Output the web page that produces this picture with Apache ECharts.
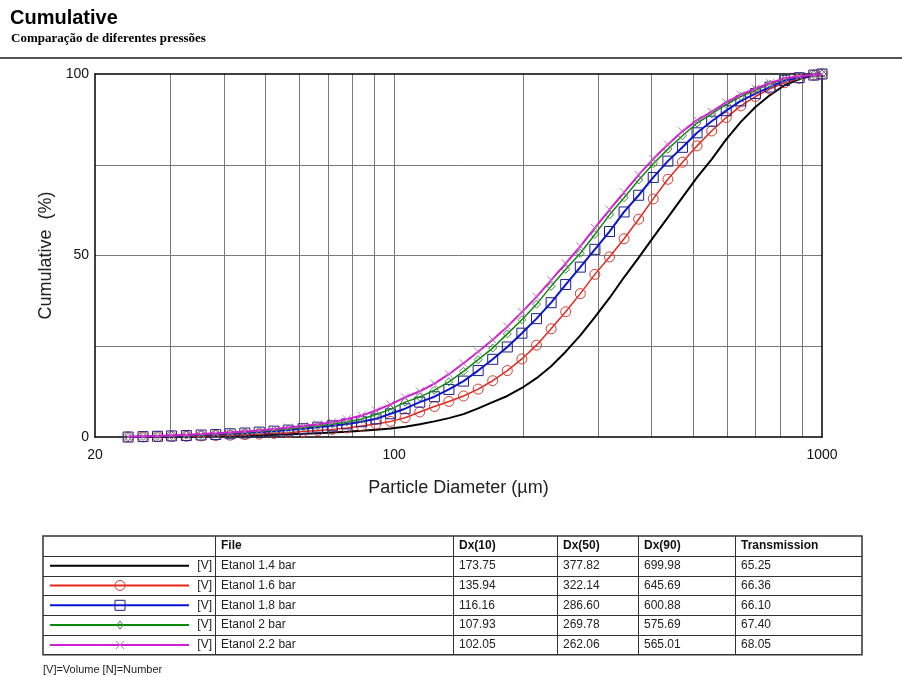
<!DOCTYPE html>
<html>
<head>
<meta charset="utf-8">
<title>Cumulative</title>
<script src="https://cdn.jsdelivr.net/npm/echarts@6/dist/echarts.min.js"></script>
<style>
  html, body { margin: 0; padding: 0; background: #fff; }
  #main { width: 902px; height: 677px; }
</style>
</head>
<body>
<div id="main"></div>
<script>
  // particle diameters (µm) of the size classes
  const diameters = [23.9, 25.9, 28.0, 30.2, 32.7, 35.4, 38.3, 41.4, 44.8, 48.4, 52.4, 56.6, 61.3, 66.3, 71.7,
    77.5, 83.9, 90.7, 98.1, 106.1, 114.8, 124.2, 134.3, 145.3, 157.2, 170.0, 183.9, 198.9, 215.2, 232.8,
    251.8, 272.4, 294.6, 318.7, 344.7, 372.9, 403.3, 436.3, 471.9, 510.5, 552.2, 597.3, 646.1, 698.9,
    756.0, 817.8, 884.6, 956.9, 1000]

  // cumulative volume (%)
  const etanol14 = [0, 0, 0.05, 0.1, 0.15, 0.2, 0.25, 0.3, 0.4, 0.5, 0.6, 0.75, 0.9, 1.05, 1.25, 1.45, 1.7, 2.0,
    2.35, 2.8, 3.5, 4.3, 5.2, 6.3, 7.9, 9.6, 11.3, 13.5, 16.2, 19.5, 23.5, 28.0, 33.0, 38.3, 44.0, 49.4, 55.0,
    60.5, 66.0, 71.5, 76.5, 82.0, 86.8, 90.9, 94.2, 96.9, 98.6, 99.6, 100]
  const etanol16 = [0, 0.05, 0.1, 0.15, 0.2, 0.3, 0.4, 0.5, 0.65, 0.8, 1.0, 1.2, 1.5, 1.8, 2.1, 2.5, 3.0, 3.6,
    4.3, 5.3, 6.9, 8.4, 9.8, 11.3, 13.2, 15.5, 18.3, 21.5, 25.3, 29.8, 34.5, 39.5, 44.8, 49.6, 54.6, 60.0, 65.6,
    71.0, 75.7, 80.2, 84.3, 88.0, 91.2, 93.8, 95.9, 97.6, 98.8, 99.7, 100]
  const etanol18 = [0, 0.1, 0.2, 0.3, 0.4, 0.55, 0.7, 0.9, 1.1, 1.35, 1.6, 1.9, 2.3, 2.7, 3.1, 3.6, 4.2, 5.0,
    6.4, 7.8, 9.6, 11.1, 13.1, 15.4, 18.3, 21.4, 24.8, 28.6, 32.6, 37.0, 42.0, 46.8, 51.7, 56.6, 62.0, 66.6, 71.5,
    76.0, 79.8, 83.8, 87.0, 89.9, 92.6, 94.6, 96.4, 98.2, 99.0, 99.7, 100]
  const etanol20 = [0.05, 0.15, 0.25, 0.35, 0.5, 0.65, 0.85, 1.05, 1.3, 1.55, 1.85, 2.25, 2.65, 3.05, 3.55, 4.15,
    4.9, 6.2, 7.6, 9.6, 11.0, 12.9, 15.2, 18.1, 21.3, 24.5, 28.4, 32.3, 36.6, 41.5, 46.2, 50.6, 55.8, 61.2, 65.9,
    70.8, 75.3, 79.3, 83.0, 86.5, 89.0, 91.6, 93.8, 95.6, 97.2, 98.6, 99.3, 99.8, 100]
  const etanol22 = [0.1, 0.2, 0.3, 0.45, 0.6, 0.8, 1.0, 1.25, 1.5, 1.8, 2.2, 2.6, 3.0, 3.5, 4.1, 4.9, 5.9, 7.3,
    9.0, 10.9, 12.6, 14.7, 17.3, 20.3, 23.5, 26.8, 30.4, 34.4, 38.6, 43.2, 47.8, 52.5, 57.6, 62.6, 67.4, 72.2,
    76.6, 80.6, 84.2, 87.3, 89.6, 92.2, 94.3, 96.0, 97.5, 98.8, 99.4, 99.8, 100]

  // axis ticks
  const xGridValues = [30, 40, 50, 60, 70, 80, 90, 100, 200, 300, 400, 500, 600, 700, 800, 900]
  const xLabelValues = [20, 100, 1000]

  // results table
  const fileNames = ['Etanol 1.4 bar', 'Etanol 1.6 bar', 'Etanol 1.8 bar', 'Etanol 2 bar', 'Etanol 2.2 bar']
  const dx10 = [173.75, 135.94, 116.16, 107.93, 102.05]
  const dx50 = [377.82, 322.14, 286.60, 269.78, 262.06]
  const dx90 = [699.98, 645.69, 600.88, 575.69, 565.01]
  const transmission = [65.25, 66.36, 66.10, 67.40, 68.05]

  const FONT = 'Liberation Sans, Arial, sans-serif'
  const CROSS = 'path://M0,0L10,10M10,0L0,10'

  const styles = [
    { line: '#000000', mark: 'none', markColor: '#000000', size: 0, width: 2 },
    { line: '#e8261c', mark: 'circle', markColor: '#d63a30', size: 10, width: 1.5 },
    { line: '#0a14d8', mark: 'rect', markColor: '#1c1f8c', size: 10, width: 2 },
    { line: '#0a8a0a', mark: 'diamond', markColor: '#3a8a3a', size: 8, width: 1.5 },
    { line: '#d21ed2', mark: CROSS, markColor: '#c26fc2', size: 8, width: 2 }
  ]
  const allSeries = [etanol14, etanol16, etanol18, etanol20, etanol22]

  const series = allSeries.map((vals, k) => {
    const s = styles[k]
    return {
      name: fileNames[k],
      type: 'line',
      data: diameters.map((d, i) => [d, vals[i]]),
      symbol: s.mark,
      symbolSize: s.size,
      showSymbol: s.mark !== 'none',
      lineStyle: { color: s.line, width: s.width },
      itemStyle: { color: 'transparent', borderColor: s.markColor, borderWidth: 1 },
      emphasis: { disabled: true },
      silent: true,
      z: 2 + k
    }
  })

  // title and table drawn with graphic elements
  const graphic = []
  graphic.push({
    type: 'text', left: 10, top: 8,
    style: { text: 'Cumulative', font: 'bold 20px ' + FONT, fill: '#000' }
  })
  graphic.push({
    type: 'text', left: 11, top: 32,
    style: { text: 'Comparação de diferentes pressões', font: 'bold 13px "Liberation Serif", "Times New Roman", serif', fill: '#000' }
  })
  graphic.push({
    type: 'line', shape: { x1: 0, y1: 58, x2: 902, y2: 58 },
    style: { stroke: '#555', lineWidth: 2 }
  })

  const tLeft = 43, tRight = 862, tTop = 536, rowH = 19.8
  const colX = [215, 453, 557, 638, 735]
  const rows = fileNames.length + 1
  const tBottom = tTop + rowH * rows
  graphic.push({
    type: 'rect', shape: { x: tLeft, y: tTop, width: tRight - tLeft, height: tBottom - tTop },
    style: { fill: 'none', stroke: '#333', lineWidth: 1.5 }
  })
  for (let r = 1; r < rows; r++) {
    const y = Math.round(tTop + rowH * r) + 0.5
    graphic.push({ type: 'line', shape: { x1: tLeft, y1: y, x2: tRight, y2: y }, style: { stroke: '#333', lineWidth: 1 } })
  }
  colX.forEach(x => {
    graphic.push({ type: 'line', shape: { x1: x + 0.5, y1: tTop, x2: x + 0.5, y2: tBottom }, style: { stroke: '#333', lineWidth: 1 } })
  })
  const headers = ['File', 'Dx(10)', 'Dx(50)', 'Dx(90)', 'Transmission']
  headers.forEach((h, c) => {
    graphic.push({
      type: 'text', x: colX[c] + 6, y: tTop + rowH / 2,
      style: { text: h, font: 'bold 12px ' + FONT, fill: '#111', textVerticalAlign: 'middle' }
    })
  })
  fileNames.forEach((f, r) => {
    const cy = tTop + rowH * (r + 1.5)
    const cells = [f, dx10[r].toFixed(2), dx50[r].toFixed(2), dx90[r].toFixed(2), transmission[r].toFixed(2)]
    cells.forEach((t, c) => {
      graphic.push({
        type: 'text', x: colX[c] + 6, y: cy,
        style: { text: t, font: '12px ' + FONT, fill: '#222', textVerticalAlign: 'middle' }
      })
    })
    const s = styles[r]
    graphic.push({ type: 'line', shape: { x1: 50, y1: cy, x2: 189, y2: cy }, style: { stroke: s.line, lineWidth: 2 } })
    graphic.push({
      type: 'text', x: 212, y: cy,
      style: { text: '[V]', font: '12px ' + FONT, fill: '#222', textAlign: 'right', textVerticalAlign: 'middle' }
    })
    const mx = 120
    const ms = { fill: 'none', stroke: s.markColor, lineWidth: 1 }
    if (s.mark === 'circle') graphic.push({ type: 'circle', shape: { cx: mx, cy: cy, r: 5 }, style: ms })
    if (s.mark === 'rect') graphic.push({ type: 'rect', shape: { x: mx - 5, y: cy - 5, width: 10, height: 10 }, style: ms })
    if (s.mark === 'diamond') graphic.push({ type: 'polygon', shape: { points: [[mx, cy - 4], [mx + 3, cy], [mx, cy + 4], [mx - 3, cy]] }, style: ms })
    if (s.mark === CROSS) {
      graphic.push({ type: 'line', shape: { x1: mx - 4, y1: cy - 4, x2: mx + 4, y2: cy + 4 }, style: ms })
      graphic.push({ type: 'line', shape: { x1: mx + 4, y1: cy - 4, x2: mx - 4, y2: cy + 4 }, style: ms })
    }
  })
  graphic.push({
    type: 'text', x: 43, y: 670,
    style: { text: '[V]=Volume [N]=Number', font: '11px ' + FONT, fill: '#222', textVerticalAlign: 'middle' }
  })

  const frameAxis = {
    axisLine: { show: true, onZero: false, lineStyle: { color: '#000', width: 1.5 } },
    axisTick: { show: false },
    axisLabel: { show: false },
    splitLine: { show: false }
  }

  const option = {
    animation: false,
    backgroundColor: '#fff',
    grid: { left: 95, right: 80, top: 74, bottom: 240 },
    xAxis: [{
      type: 'log',
      logBase: 10,
      min: 20,
      max: 1000,
      name: 'Particle Diameter (µm)',
      nameLocation: 'middle',
      nameGap: 42,
      nameTextStyle: { color: '#222', fontSize: 18, fontFamily: FONT },
      axisLine: { show: true, onZero: false, lineStyle: { color: '#000', width: 1.5 } },
      axisTick: { show: false, customValues: xGridValues },
      axisLabel: {
        customValues: xLabelValues, color: '#111', fontSize: 14, fontFamily: FONT, margin: 11,
        formatter: v => String(Math.round(v))
      },
      splitLine: { show: true, lineStyle: { color: '#7a7a7a', width: 1 } }
    }, Object.assign({ type: 'log', logBase: 10, min: 20, max: 1000, position: 'top' }, frameAxis)],
    yAxis: [{
      type: 'value',
      min: 0,
      max: 100,
      interval: 25,
      name: 'Cumulative  (%)',
      nameLocation: 'middle',
      nameGap: 38,
      nameTextStyle: { color: '#222', fontSize: 18, fontFamily: FONT },
      axisLine: { show: true, lineStyle: { color: '#000', width: 1.5 } },
      axisTick: { show: false },
      axisLabel: {
        color: '#111', fontSize: 14, fontFamily: FONT, margin: 6,
        formatter: v => (v % 50 === 0 ? String(v) : '')
      },
      splitLine: { show: true, showMinLine: false, showMaxLine: false, lineStyle: { color: '#7a7a7a', width: 1 } }
    }, Object.assign({ type: 'value', min: 0, max: 100, position: 'right' }, frameAxis)],
    graphic: graphic,
    series: series
  }

  const chart = echarts.init(document.getElementById('main'))
  chart.setOption(option)
</script>
</body>
</html>
